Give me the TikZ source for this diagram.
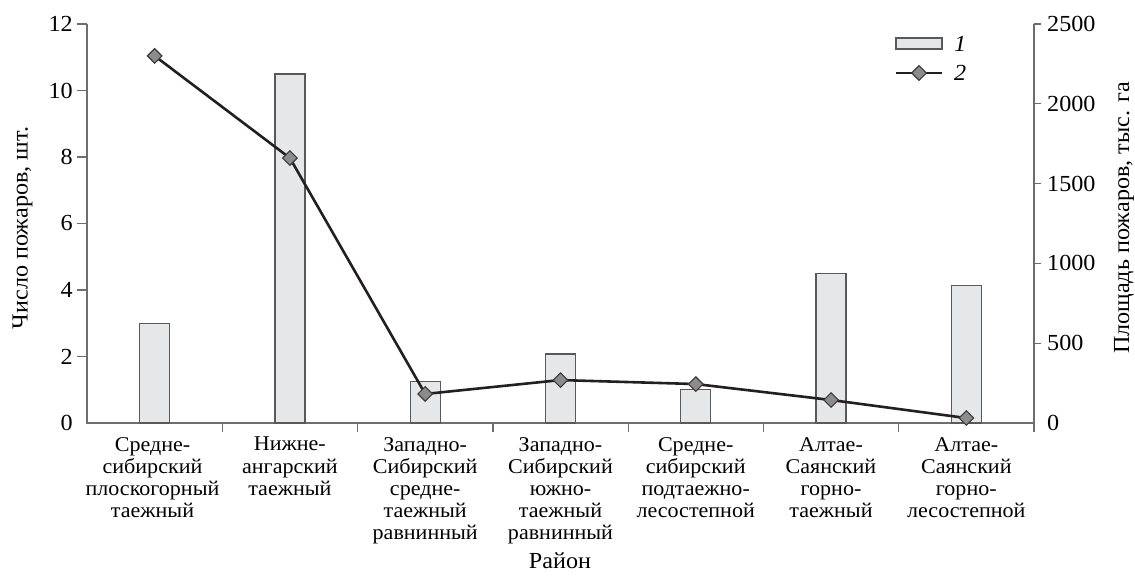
\documentclass[tikz,border=0pt]{standalone}
\usepackage{fontspec}
\setmainfont{Liberation Serif}[FakeStretch=1.05]
\usetikzlibrary{shapes.geometric}
\definecolor{axisgray}{HTML}{6D6E71}
\definecolor{barfill}{HTML}{E6E7E8}
\definecolor{bardraw}{HTML}{58595B}
\definecolor{linecol}{HTML}{231F20}
\definecolor{diafill}{HTML}{8C8C8C}
\definecolor{diadraw}{HTML}{3A3A3A}
\begin{document}
\begin{tikzpicture}[x=1pt,y=1pt,
  axisline/.style={draw=axisgray,line width=1.3pt},
  barbox/.style={draw=bardraw,fill=barfill,line width=1.4pt},
  dataline/.style={draw=linecol,line width=2.6pt},
  dia/.style={diamond,draw=diadraw,fill=diafill,line width=1.1pt,minimum size=15pt,inner sep=0pt},
  ticklab/.style={font=\fontsize{23}{27}\selectfont,inner sep=0pt},
  catlab/.style={font=\fontsize{21}{22.2}\selectfont,align=center,anchor=north,inner sep=0pt},
  title/.style={font=\fontsize{23}{27}\selectfont,inner sep=0pt}]
\useasboundingbox (0,0) rectangle (1135,576);
% axes
\draw[axisline] (87,552) -- (87,153) -- (1034,153) -- (1034,552);
% left ticks and labels
\foreach \v in {0,2,4,6,8,10,12}{
  \pgfmathsetmacro{\yy}{153+33.25*\v}
  \ifnum\v>0 \draw[axisline] (77,\yy) -- (87,\yy);\fi
  \node[ticklab,anchor=east] (l\v) at (73,\yy) {\v};
}
% right ticks and labels
\foreach \v in {0,500,1000,1500,2000,2500}{
  \pgfmathsetmacro{\yy}{153+0.1596*\v}
  \ifnum\v>0 \draw[axisline] (1034,\yy) -- (1041,\yy);\fi
  \node[ticklab,anchor=west] (r\v) at (1047,\yy) {\v};
}
% bottom ticks
\foreach \i in {1,...,7}{
  \pgfmathsetmacro{\xx}{87+135.286*\i}
  \draw[axisline] (\xx,153) -- (\xx,144);
}
% bars
\foreach \i/\h in {1/3.0,2/10.5,3/1.24,4/2.07,5/1.01,6/4.5,7/4.13}{
  \pgfmathsetmacro{\xc}{87+135.286*(\i-0.5)}
  \draw[barbox] (\xc-15,153) rectangle (\xc+15,153+33.25*\h);
}
% line points
\foreach \i/\a in {1/2300,2/1660,3/182,4/269,5/244,6/144,7/31}{
  \pgfmathsetmacro{\xc}{87+135.286*(\i-0.5)}
  \coordinate (c\i) at (\xc,153+0.1596*\a);
}
\draw[dataline] (c1) -- (c2) -- (c3) -- (c4) -- (c5) -- (c6) -- (c7);
\foreach \i in {1,...,7}{\node[dia] (p\i) at (c\i) {};}
% category labels
\node[catlab] (k1) at (152.5,139) {Средне-\\сибирский\\плоскогорный\\таежный};
\node[catlab] (k2) at (289.9,139) {Нижне-\\ангарский\\таежный};
\node[catlab] (k3) at (425.2,139) {Западно-\\Сибирский\\средне-\\таежный\\равнинный};
\node[catlab] (k4) at (560.5,139) {Западно-\\Сибирский\\южно-\\таежный\\равнинный};
\node[catlab] (k5) at (695.7,139) {Средне-\\сибирский\\подтаежно-\\лесостепной};
\node[catlab] (k6) at (831.0,139) {Алтае-\\Саянский\\горно-\\таежный};
\node[catlab] (k7) at (966.3,139) {Алтае-\\Саянский\\горно-\\лесостепной};
% titles
\node[title,anchor=base] (xt) at (560,8) {Район};
\node[title,rotate=90] (yl) at (22.5,348) {Число пожаров, шт.};
\node[title,rotate=90] (yr) at (1124,358) {Площадь пожаров, тыс. га};
% legend
\draw[barbox] (896,527) rectangle (942,538);
\node[ticklab,anchor=west,font=\fontsize{23}{27}\selectfont\itshape] (g1) at (954,532.5) {1};
\coordinate (la) at (896,503);
\coordinate (lb) at (942,503);
\draw[dataline] (la) -- (lb);
\node[dia] (gd) at (919,503) {};
\node[ticklab,anchor=west,font=\fontsize{23}{27}\selectfont\itshape] (g2) at (954,503) {2};
\end{tikzpicture}
\end{document}
